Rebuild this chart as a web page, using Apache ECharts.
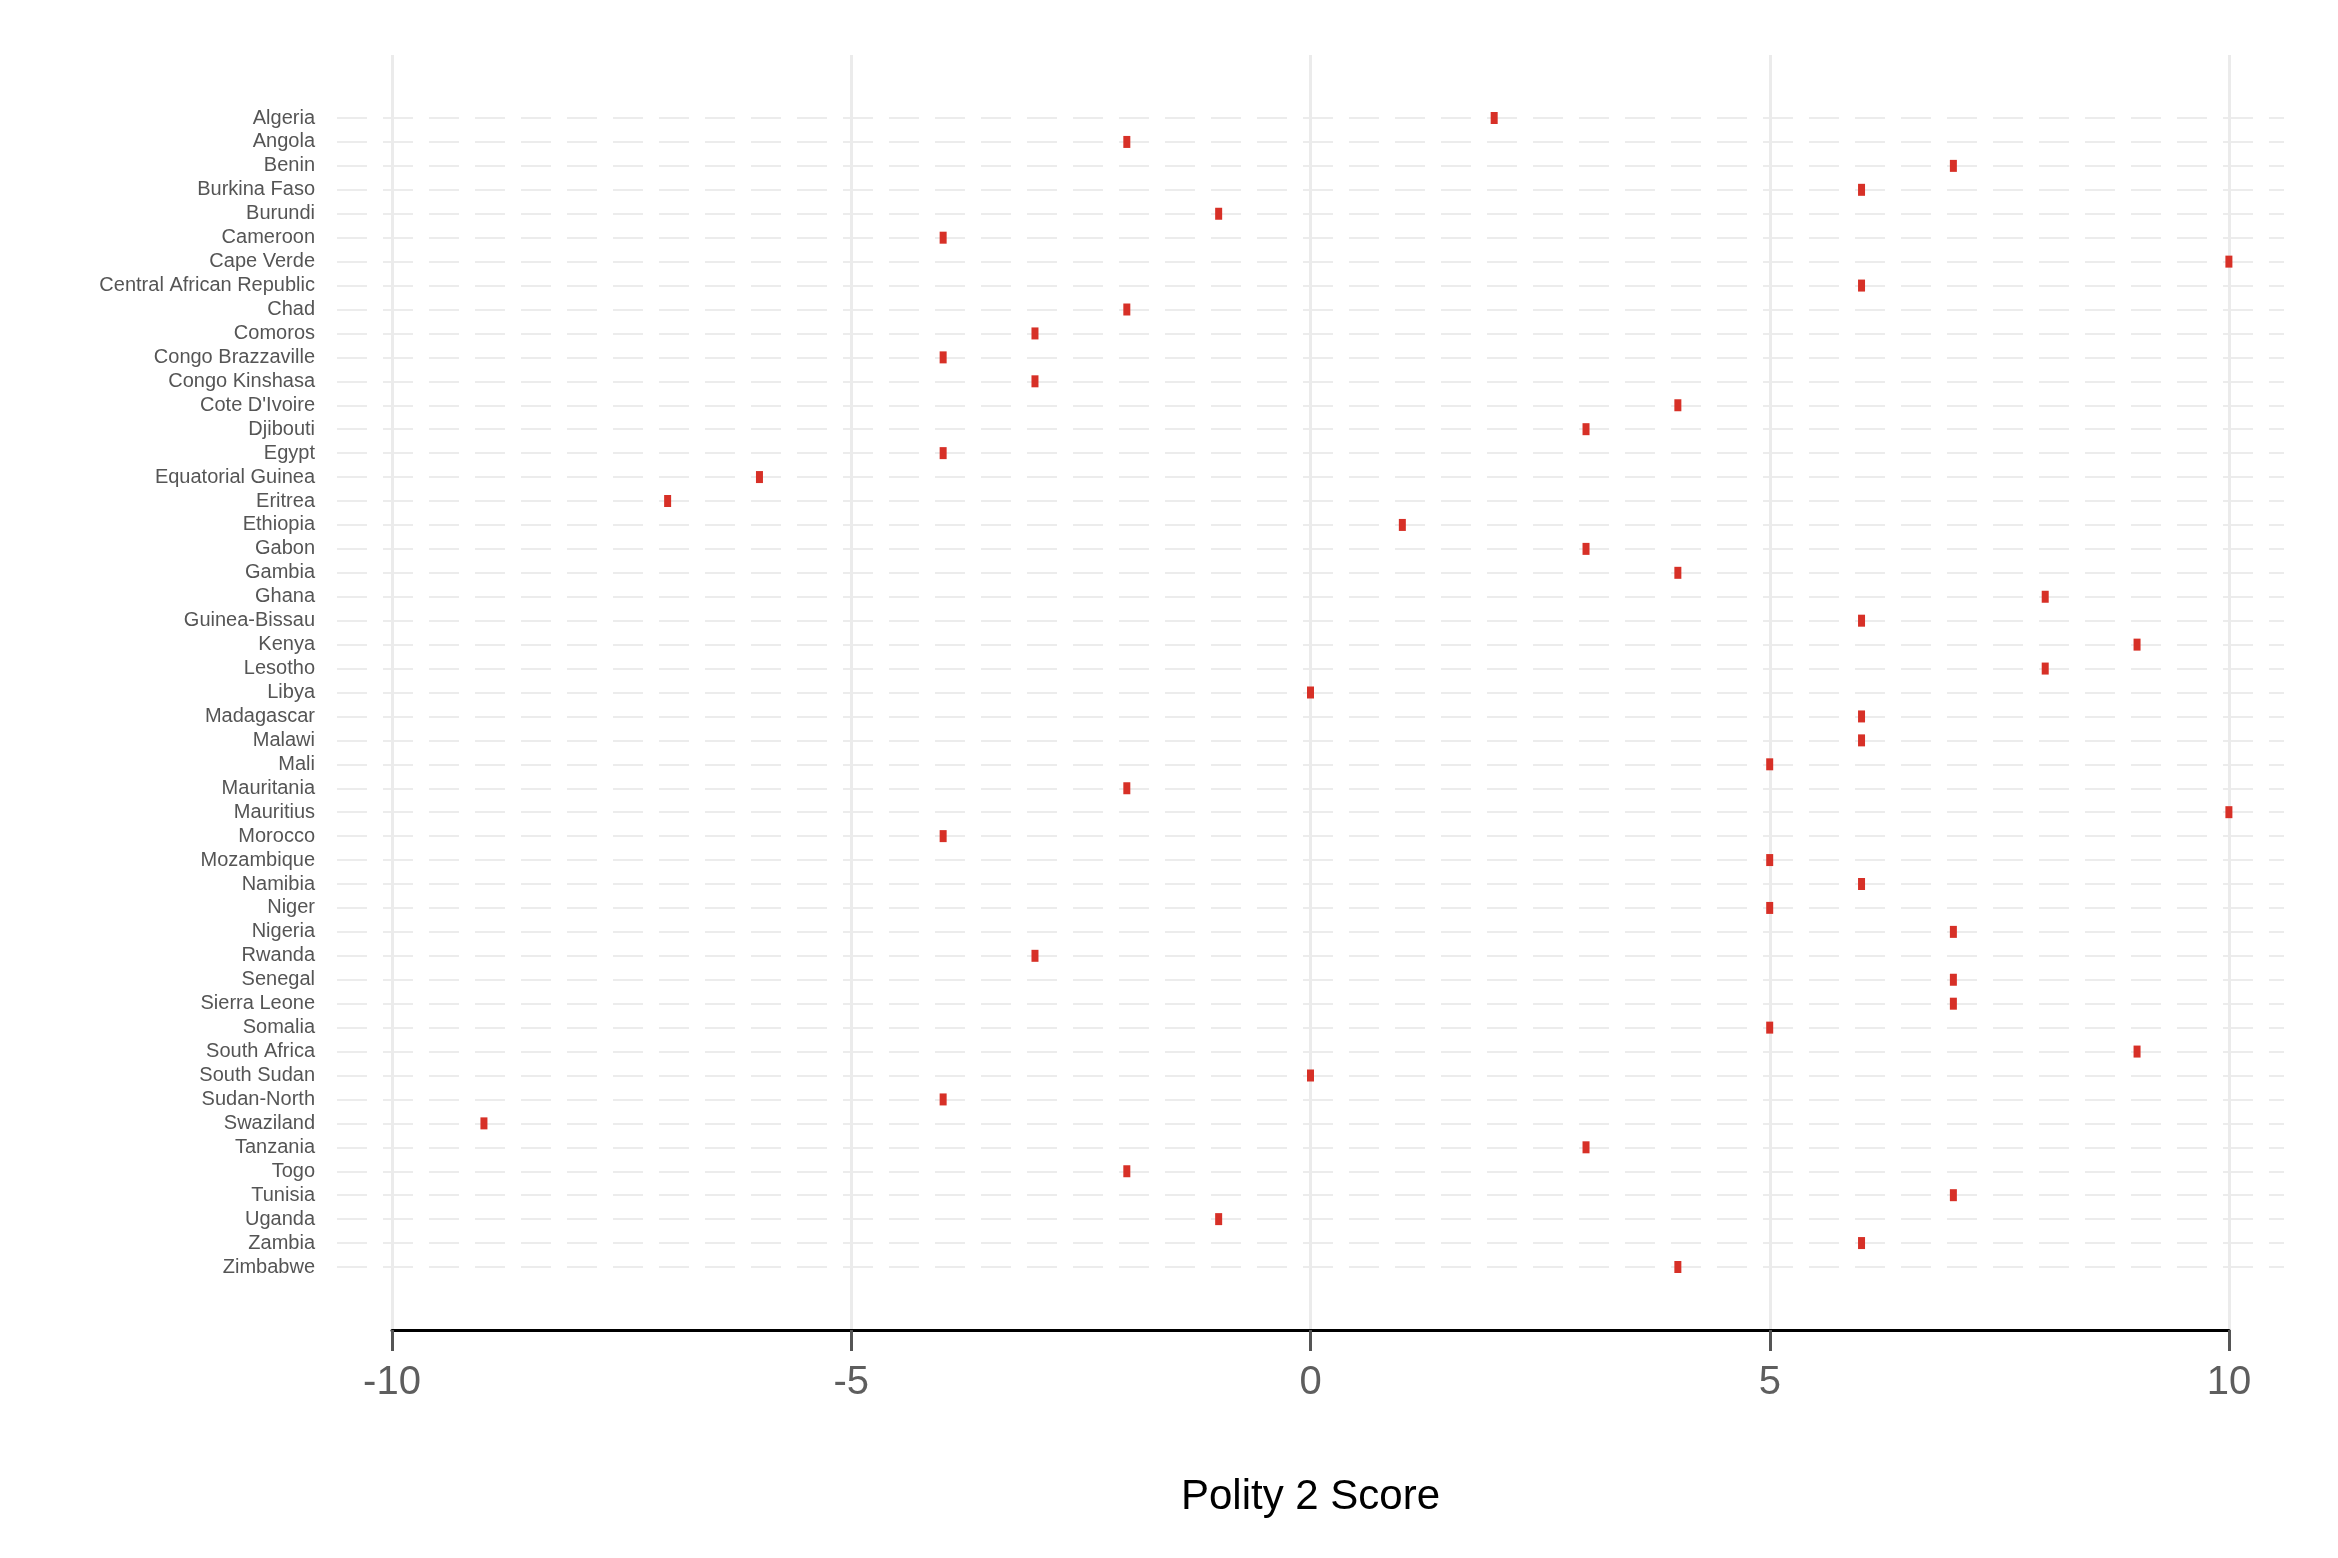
<!DOCTYPE html>
<html>
<head>
<meta charset="utf-8">
<script src="https://cdn.jsdelivr.net/npm/echarts@6/dist/echarts.min.js"></script>
<style>
html,body{margin:0;padding:0;background:#fff;}
#chart{width:2338px;height:1558px;}
</style>
</head>
<body>
<div id="chart"></div>
<script>
const countries = ["Algeria","Angola","Benin","Burkina Faso","Burundi","Cameroon","Cape Verde","Central African Republic","Chad","Comoros","Congo Brazzaville","Congo Kinshasa","Cote D'Ivoire","Djibouti","Egypt","Equatorial Guinea","Eritrea","Ethiopia","Gabon","Gambia","Ghana","Guinea-Bissau","Kenya","Lesotho","Libya","Madagascar","Malawi","Mali","Mauritania","Mauritius","Morocco","Mozambique","Namibia","Niger","Nigeria","Rwanda","Senegal","Sierra Leone","Somalia","South Africa","South Sudan","Sudan-North","Swaziland","Tanzania","Togo","Tunisia","Uganda","Zambia","Zimbabwe"];
const polity2 = [2,-2,7,6,-1,-4,10,6,-2,-3,-4,-3,4,3,-4,-6,-7,1,3,4,8,6,9,8,0,6,6,5,-2,10,-4,5,6,5,7,-3,7,7,5,9,0,-4,-9,3,-2,7,-1,6,4];
const xTicks = [-10,-5,0,5,10];
const axisTitle = "Polity 2 Score";

const FONT = "'Liberation Sans', Arial, Helvetica, sans-serif";
const chart = echarts.init(document.getElementById('chart'), null, {renderer:'canvas'});
const option = {
  backgroundColor:'#ffffff',
  animation:false,
  grid:[
    {left:392, right:109, top:55, bottom:228, containLabel:false},
    {left:337, right:54, top:118, bottom:291, containLabel:false}
  ],
  xAxis:[
    {gridIndex:0, type:'value', min:xTicks[0], max:xTicks[xTicks.length-1], interval:5,
     axisLine:{show:true, lineStyle:{color:'#000', width:3}},
     axisTick:{show:true, length:21, lineStyle:{color:'#555', width:3}},
     axisLabel:{show:true, margin:33, fontSize:40, color:'#5e5e5e', fontFamily:FONT},
     splitLine:{show:true, lineStyle:{color:'#ebebeb', width:3}},
     name:axisTitle, nameLocation:'middle', nameGap:146,
     nameTextStyle:{fontSize:42, color:'#000', fontFamily:FONT}
    },
    {gridIndex:1, type:'value', min:-10.6, max:10.6, show:false}
  ],
  yAxis:[
    {gridIndex:0, type:'value', show:false},
    {gridIndex:1, type:'category', data:countries, inverse:true, boundaryGap:false,
     axisLine:{show:false}, axisTick:{show:false},
     axisLabel:{show:true, margin:22, fontSize:20, color:'#555555', fontFamily:FONT, interval:0,
                verticalAlign:'middle', padding:[7,0,0,0]},
     splitLine:{show:true, interval:0, lineStyle:{color:'#ececec', width:2, type:[30,16]}}
    }
  ],
  series:[{
    type:'scatter', xAxisIndex:1, yAxisIndex:1,
    symbol:'rect', symbolSize:[7,12],
    itemStyle:{color:'#d73027', opacity:1},
    data: countries.map((c,i)=>[polity2[i], c]),
    z:5
  }]
};
chart.setOption(option);
</script>
</body>
</html>
